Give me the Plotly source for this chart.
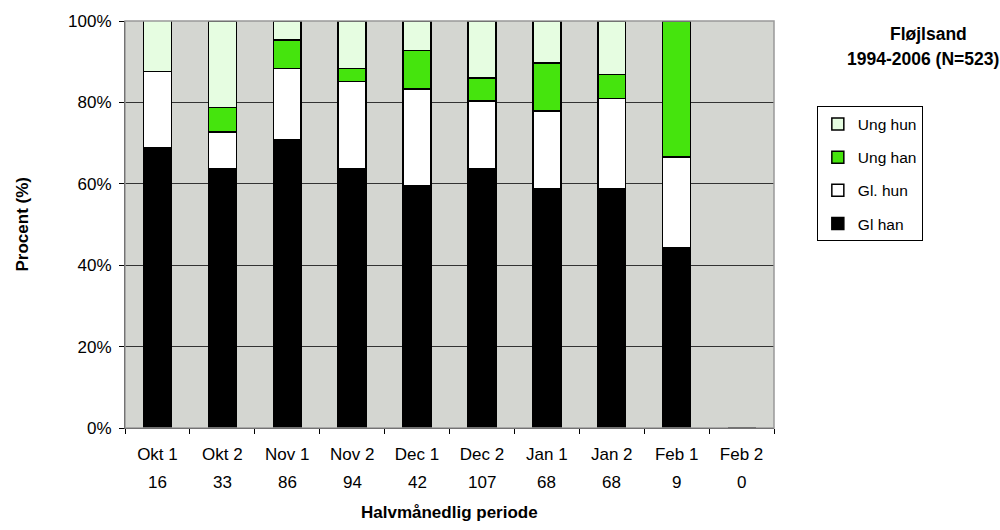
import plotly.graph_objects as go

categories = ["Okt 1", "Okt 2", "Nov 1", "Nov 2", "Dec 1", "Dec 2", "Jan 1", "Jan 2", "Feb 1", "Feb 2"]
counts = ["16", "33", "86", "94", "42", "107", "68", "68", "9", "0"]

gl_han = [68.8, 63.6, 70.9, 63.8, 59.5, 63.6, 58.8, 58.8, 44.4, 0]
gl_hun = [18.8, 9.1, 17.4, 21.3, 23.8, 16.8, 19.1, 22.1, 22.2, 0]
ung_han = [0.0, 6.1, 7.0, 3.2, 9.5, 5.6, 11.8, 5.9, 33.3, 0]
ung_hun = [12.5, 21.2, 4.7, 11.7, 7.1, 14.0, 10.3, 13.2, 0.0, 0]

series = [
    ("Gl han", gl_han, "#000000", 4),
    ("Gl. hun", gl_hun, "#FFFFFF", 3),
    ("Ung han", ung_han, "#45E40D", 2),
    ("Ung hun", ung_hun, "#E6FDE1", 1),
]

FONT = "Liberation Sans"

fig = go.Figure()
for name, vals, col, rank in series:
    fig.add_trace(go.Bar(
        x=categories, y=vals, name=name, legendgroup=name, legendrank=rank,
        marker=dict(color=col, line=dict(color="#000000", width=1.5)),
    ))

for cat, n in zip(categories, counts):
    fig.add_annotation(x=cat, y=0, xref="x", yref="y", text=n, showarrow=False,
                       yanchor="middle", yshift=-54, font=dict(family=FONT, size=17, color="#000"))

fig.add_annotation(xref="paper", yref="paper", x=0.5, y=0, yshift=-84, yanchor="middle",
                   text="<b>Halvmånedlig periode</b>", showarrow=False,
                   font=dict(family=FONT, size=17, color="#000"))
fig.add_annotation(xref="paper", yref="paper", x=0, xshift=-103, y=0.5, textangle=-90,
                   text="<b>Procent (%)</b>", showarrow=False, xanchor="center",
                   font=dict(family=FONT, size=17, color="#000"))
fig.add_annotation(xref="paper", yref="paper", x=1, xshift=154, y=1, yshift=-13, yanchor="middle",
                   text="<b>Fløjlsand</b>", showarrow=False, xanchor="center",
                   font=dict(family=FONT, size=17.5, color="#000"))
fig.add_annotation(xref="paper", yref="paper", x=1, xshift=149, y=1, yshift=-38, yanchor="middle",
                   text="<b>1994-2006 (N=523)</b>", showarrow=False, xanchor="center",
                   font=dict(family=FONT, size=17.5, color="#000"))

fig.add_shape(type="rect", xref="paper", yref="paper", x0=0, x1=1, y0=0, y1=1,
              line=dict(color="#999999", width=1.5), layer="above")

fig.update_layout(
    width=1000, height=530,
    margin=dict(l=125, r=226, t=21, b=102),
    paper_bgcolor="#FFFFFF", plot_bgcolor="#D4D6D1",
    barmode="stack", bargap=0.57,
    font=dict(family=FONT, size=17, color="#000"),
    showlegend=True,
    legend=dict(x=1.066, y=0.79, xanchor="left", yanchor="top",
                traceorder="grouped", tracegroupgap=10,
                bordercolor="#000000", borderwidth=1, bgcolor="#FFFFFF",
                itemwidth=30, font=dict(family=FONT, size=15.5)),
    xaxis=dict(type="category", tickson="boundaries", ticks="outside", ticklen=5,
               tickcolor="#000", showline=True, linecolor="#000", linewidth=1,
               showgrid=False, ticklabelstandoff=11, tickfont=dict(size=17)),
    yaxis=dict(range=[0, 100], dtick=20, ticksuffix="%", ticks="outside", ticklen=5,
               tickcolor="#000", showline=True, linecolor="#000", linewidth=1,
               showgrid=True, gridcolor="#333333", gridwidth=1, zeroline=False,
               ticklabelstandoff=4, tickfont=dict(size=17)),
)

fig.write_html("out.html", config={"displayModeBar": False},
               post_script="document.body.style.margin='0px';")
